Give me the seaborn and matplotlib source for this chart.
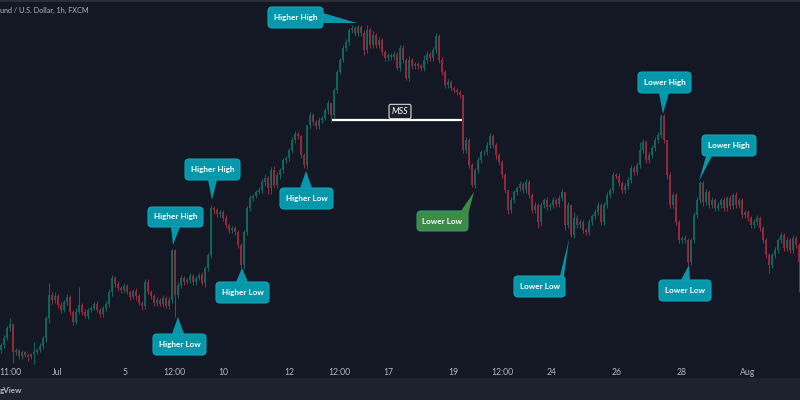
import numpy as np
import pandas as pd
import matplotlib
matplotlib.use("Agg")
import matplotlib.pyplot as plt
import matplotlib.patches as mpatches
import seaborn as sns

BG = "#141824"
UP = "#0e6b60"
DOWN = "#9c2a3c"
TEAL = "#0797ab"
TEAL_EDGE = "#0fa5b8"
GREEN = "#3e8b48"
GREEN_EDGE = "#2f9a78"

# hourly candles, price level per bar
first_open = 50
closes = [
    55, 62, 72, 76, 48, 50, 44, 48, 45, 43,
    46, 48, 50, 54, 62, 82, 105, 100, 104, 95,
    90, 98, 103, 88, 78, 88, 95, 88, 84, 90,
    92, 96, 90, 86, 92, 96, 108, 122, 116, 112,
    110, 114, 108, 103, 109, 104, 97, 94, 118, 108,
    104, 97, 100, 96, 102, 94, 100, 150, 105, 115,
    122, 118, 120, 124, 118, 122, 125, 117, 132, 145,
    192, 190, 186, 188, 182, 175, 170, 172, 168, 155,
    135, 168, 192, 202, 204, 208, 210, 218, 222, 212,
    230, 215, 225, 230, 240, 242, 250, 260, 266, 264,
    245, 235, 275, 285, 278, 274, 280, 282, 290, 297,
    285, 310, 328, 340, 352, 358, 370, 372, 367, 373,
    367, 350, 370, 355, 365, 355, 360, 348, 342, 345,
    343, 346, 332, 352, 340, 322, 340, 334, 336, 334,
    332, 340, 346, 342, 350, 364, 340, 328, 315, 318,
    312, 310, 308, 305, 250, 260, 235, 215, 230, 240,
    248, 248, 255, 264, 255, 245, 238, 225, 210, 190,
    200, 208, 212, 216, 210, 218, 205, 190, 195, 178,
    195, 200, 193, 195, 200, 196, 202, 208, 175, 195,
    165, 182, 175, 178, 170, 168, 178, 184, 188, 195,
    178, 195, 205, 210, 225, 224, 217, 210, 214, 220,
    232, 228, 235, 250, 258, 240, 245, 252, 260, 265,
    284, 260, 225, 195, 205, 178, 160, 162, 160, 138,
    160, 185, 200, 217, 198, 208, 195, 200, 192, 195,
    200, 192, 202, 194, 205, 195, 200, 185, 188, 182,
    175, 178, 182, 172, 160, 145, 135, 145, 150, 160,
    165, 152, 160, 150, 162, 155, 138,
]
wick_up = [
    2, 3, 2, 6, 0, 2, 1, 2, 1, 2,
    1, 10, 2, 3, 2, 2, 12, 3, 4, 2,
    3, 2, 3, 2, 2, 4, 18, 2, 3, 2,
    2, 2, 3, 2, 2, 3, 3, 3, 2, 3,
    2, 3, 2, 2, 2, 3, 2, 2, 3, 3,
    2, 2, 3, 2, 3, 2, 3, 1, 1, 3,
    3, 2, 2, 3, 2, 2, 2, 3, 2, 2,
    3, 2, 2, 2, 2, 3, 2, 2, 2, 2,
    2, 2, 2, 3, 2, 2, 3, 3, 4, 2,
    3, 4, 3, 2, 2, 2, 2, 3, 3, 2,
    1, 2, 0, 3, 2, 2, 3, 2, 2, 3,
    0, 2, 2, 2, 3, 3, 2, 3, 2, 2,
    2, 3, 5, 2, 4, 2, 3, 2, 2, 2,
    2, 3, 2, 3, 3, 2, 4, 2, 2, 2,
    2, 5, 3, 2, 3, 3, 2, 3, 2, 3,
    2, 2, 2, 2, 0, 3, 2, 2, 2, 3,
    2, 2, 3, 3, 2, 2, 2, 2, 2, 0,
    3, 2, 2, 3, 2, 3, 2, 2, 3, 2,
    3, 2, 3, 2, 3, 2, 3, 3, 0, 3,
    0, 6, 3, 3, 2, 2, 3, 2, 3, 3,
    2, 3, 3, 2, 3, 2, 3, 2, 3, 3,
    3, 2, 3, 8, 3, 2, 3, 3, 3, 3,
    2, 2, 0, 3, 3, 2, 2, 2, 3, 2,
    2, 3, 3, 2, 2, 3, 2, 3, 2, 3,
    2, 3, 2, 3, 2, 3, 2, 2, 2, 2,
    2, 3, 3, 2, 2, 2, 2, 2, 3, 2,
    3, 2, 3, 2, 3, 2, 2,
]
wick_down = [
    3, 3, 2, 3, 11, 3, 3, 3, 2, 4,
    2, 11, 2, 2, 3, 4, 5, 4, 3, 3,
    3, 2, 3, 3, 3, 2, 2, 3, 2, 3,
    2, 2, 2, 3, 3, 3, 3, 4, 3, 3,
    3, 3, 2, 3, 2, 4, 2, 4, 3, 2,
    3, 3, 3, 2, 3, 2, 3, 3, 22, 3,
    3, 3, 2, 3, 3, 3, 2, 2, 4, 3,
    3, 4, 3, 3, 3, 3, 3, 3, 3, 3,
    3, 4, 3, 3, 3, 2, 2, 3, 4, 6,
    6, 3, 3, 4, 3, 3, 3, 3, 3, 3,
    3, 3, 4, 3, 3, 3, 3, 3, 2, 4,
    7, 5, 3, 2, 2, 3, 3, 3, 3, 3,
    3, 5, 3, 3, 3, 3, 3, 3, 3, 3,
    3, 3, 2, 3, 3, 2, 3, 3, 3, 3,
    3, 3, 3, 3, 3, 3, 3, 3, 3, 3,
    3, 3, 3, 3, 3, 3, 3, 2, 3, 3,
    3, 3, 3, 3, 3, 4, 3, 3, 3, 4,
    3, 3, 3, 3, 3, 3, 3, 3, 3, 6,
    4, 3, 3, 3, 3, 3, 3, 3, 5, 3,
    2, 3, 3, 3, 3, 3, 3, 3, 3, 3,
    3, 3, 3, 3, 3, 3, 3, 3, 3, 3,
    3, 3, 3, 3, 3, 3, 3, 3, 3, 3,
    3, 3, 4, 3, 3, 3, 3, 3, 3, 3,
    3, 3, 3, 3, 4, 3, 3, 3, 3, 3,
    3, 3, 3, 3, 3, 3, 3, 3, 3, 3,
    3, 3, 3, 3, 3, 3, 8, 3, 3, 3,
    3, 3, 3, 3, 3, 3, 30,
]

tick_bars = [2.9, 18.5, 41.2, 57.5, 73.8, 95.8, 112.5, 128.8, 150.5, 166.8, 183.2, 205.2, 226.8, 248.8]
tick_labels = ["11:00", "Jul", "5", "12:00", "10", "12", "12:00", "17", "19", "12:00", "24", "26", "28", "Aug"]

# text, box (left, top, right, bottom), pointer base a, base b, tip, in image pixels
callouts = [
    ("Higher High", (185, 159, 240, 180), (208, 180), (217, 180), (212, 200), TEAL),
    ("Higher High", (148, 207, 203, 227), (171, 227), (180, 227), (173, 245), TEAL),
    ("Higher Low", (153, 334, 206, 355), (172, 334), (184, 334), (178, 317), TEAL),
    ("Higher Low", (216, 282, 269, 303), (236, 282), (248, 282), (242, 268), TEAL),
    ("Higher High", (268, 7, 323, 28), (323, 13), (323, 23), (357, 23), TEAL),
    ("Higher Low", (280, 188, 333, 209), (300, 188), (312, 188), (306, 171), TEAL),
    ("Lower Low", (417, 211, 468, 231), (461, 211), (468, 215), (474, 192), GREEN),
    ("Lower Low", (514, 276, 565, 297), (560, 276), (564, 276), (569, 239), TEAL),
    ("Lower Low", (659, 280, 711, 301), (681, 280), (690, 280), (689, 265), TEAL),
    ("Lower High", (638, 72, 691, 93), (659, 93), (669, 93), (663, 114), TEAL),
    ("Lower High", (702, 135, 756, 156), (706, 156), (712, 156), (699, 181), TEAL),
]

sns.set_theme(style="dark", rc={
    "figure.facecolor": BG,
    "axes.facecolor": BG,
    "axes.edgecolor": BG,
    "font.family": ["Lato", "DejaVu Sans"],
})

closes = np.array(closes, dtype=float)
opens = np.r_[first_open, closes[:-1]]
highs = np.maximum(opens, closes) + np.array(wick_up)
lows = np.minimum(opens, closes) - np.array(wick_down)
bars = np.arange(len(closes))
direction = np.where(closes >= opens, "up", "down")

candles = pd.DataFrame({"bar": bars, "open": opens, "close": closes,
                        "high": highs, "low": lows, "direction": direction})
wicks = candles.melt(id_vars=["bar", "direction"], value_vars=["low", "high"], value_name="price")
bodies = candles.melt(id_vars=["bar", "direction"], value_vars=["open", "close"], value_name="price")
palette = {"up": UP, "down": DOWN}

fig = plt.figure(figsize=(8, 4), dpi=100)
ax = fig.add_axes([0, 35 / 400, 1, 363 / 400])

sns.lineplot(data=wicks, x="bar", y="price", hue="direction", units="bar", estimator=None,
             palette=palette, linewidth=0.7, legend=False, ax=ax, solid_capstyle="butt")
sns.lineplot(data=bodies, x="bar", y="price", hue="direction", units="bar", estimator=None,
             palette=palette, linewidth=1.3, legend=False, ax=ax, solid_capstyle="butt")

ax.set_xlim(-0.5, 266.17)
ax.set_ylim(35, 398)
ax.set_xlabel("")
ax.set_ylabel("")
ax.set_yticks([])
ax.set_xticks(tick_bars, tick_labels)
ax.tick_params(axis="x", length=0, pad=2, labelsize=6.2, labelcolor="#b2b5be")
ax.grid(False)
for spine in ax.spines.values():
    spine.set_visible(False)

# overlay in image pixels for the drawing tools
top = fig.add_axes([0, 0, 1, 1])
top.set_xlim(0, 800)
top.set_ylim(400, 0)
top.set_axis_off()
top.patch.set_alpha(0)

top.add_patch(mpatches.Rectangle((0, 378), 800, 22, color="#1e222d", lw=0))
top.add_patch(mpatches.Rectangle((0, 0), 800, 2, color="#2a2e39", lw=0))
top.text(0, 10, "und / U.S. Dollar, 1h, FXCM", color="#b2b5be", fontsize=5.2, va="center", ha="left")
top.text(0, 390, "gView", color="#b2b5be", fontsize=5.8, va="center", ha="left", fontweight="bold")

top.plot([332, 462], [119.5, 119.5], color="white", lw=1.6, solid_capstyle="butt")
top.text(400, 111.5, "MSS", color="white", fontsize=6.4, style="italic", ha="center", va="center",
         bbox={"boxstyle": "round,pad=0.3,rounding_size=0.2", "fc": "#1c202b", "ec": "#d8d8d8", "lw": 0.8})

for label, box, base_a, base_b, tip, colour in callouts:
    left, upper, right, lower = box
    edge = GREEN_EDGE if colour == GREEN else TEAL_EDGE
    top.add_patch(mpatches.FancyBboxPatch(
        (left + 3, upper + 3), right - left - 6, lower - upper - 6,
        boxstyle="round,pad=3,rounding_size=4", fc=colour, ec=edge, lw=0.8,
        mutation_aspect=1))
    top.add_patch(mpatches.Polygon([base_a, tip, base_b], closed=True, fc=colour, ec="none"))
    top.text((left + right) / 2, (upper + lower) / 2, label, color="white", fontsize=5.9,
             fontweight="bold", ha="center", va="center")

fig.savefig("out.png", dpi=100, facecolor=BG)
